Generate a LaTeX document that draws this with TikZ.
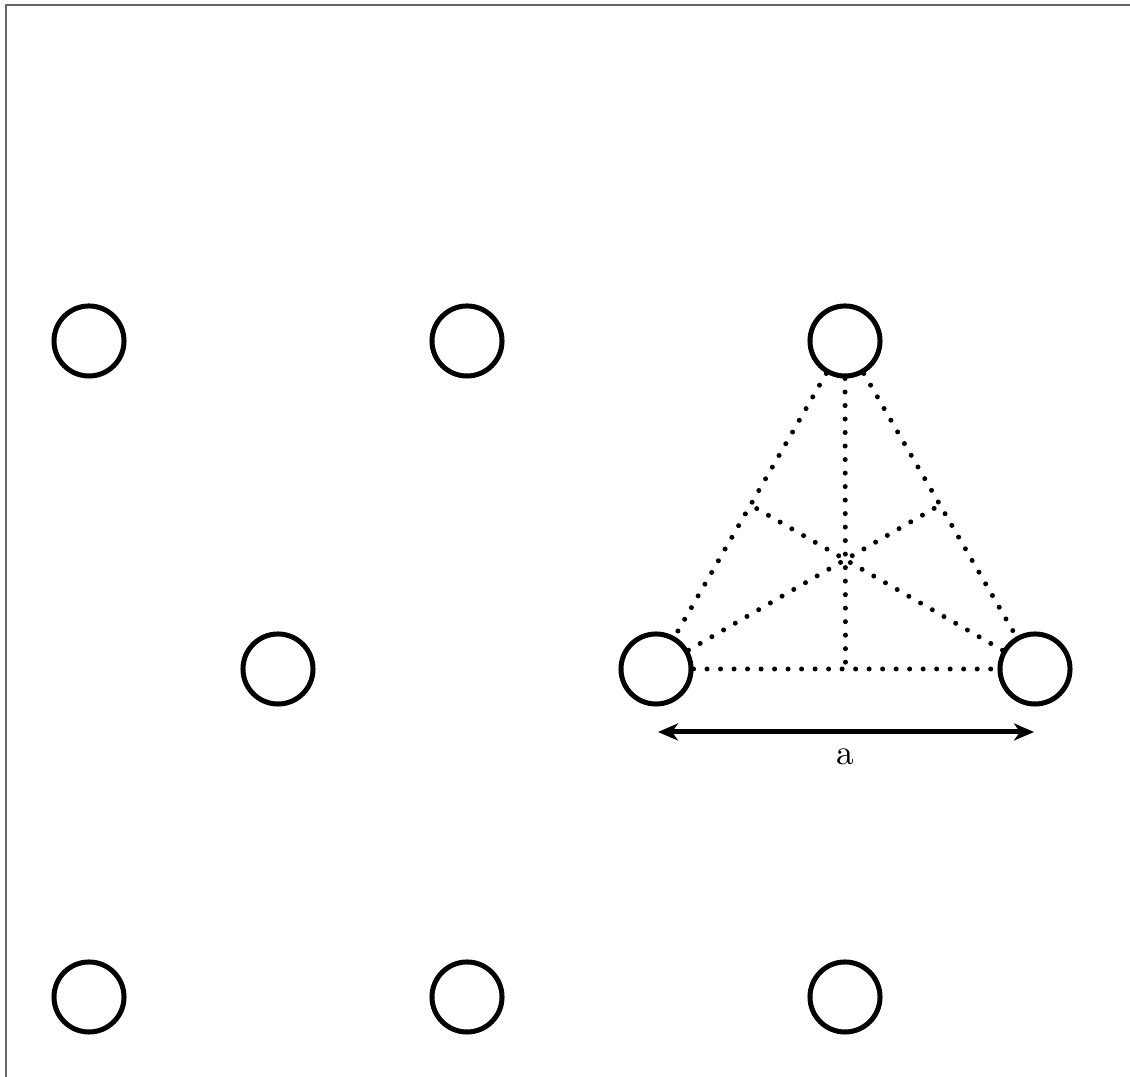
\documentclass[tikz,border=0pt]{standalone}
\usetikzlibrary{calc,arrows.meta}
\begin{document}
\begin{tikzpicture}[x=0.01cm,y=-0.01cm,
  site/.style={circle,draw=black,line width=0.05cm,minimum size=0.70cm,inner sep=0pt},
  guide/.style={line width=0.05cm,line cap=round,dash pattern=on 0pt off 0.135cm},
  span/.style={line width=0.05cm,{Stealth[length=0.2cm,width=0.17cm,inset=0.06cm]}-{Stealth[length=0.2cm,width=0.17cm,inset=0.06cm]}},
  frameline/.style={draw=black!60,line width=0.025cm}]
\useasboundingbox (0,0) rectangle (1130,1077);
% frame
\draw[frameline] (6,1077) -- (6,5) -- (1130,5);
% lattice sites
\node[site] (a1) at (89,341) {};
\node[site] (a2) at (467,341) {};
\node[site] (t)  at (845,341) {};
\node[site] (b1) at (278,669) {};
\node[site] (bl) at (656,669) {};
\node[site] (br) at (1035,669) {};
\node[site] (c1) at (89,997) {};
\node[site] (c2) at (467,997) {};
\node[site] (c3) at (845,997) {};
% midpoints
\coordinate (mb) at ($(bl.center)!0.5!(br.center)$);
\coordinate (ml) at ($(t.center)!0.5!(bl.center)$);
\coordinate (mr) at ($(t.center)!0.5!(br.center)$);
% triangle edges
\draw[guide] (t) -- (bl);
\draw[guide] (t) -- (br);
\draw[guide] (bl) -- (br);
% medians
\draw[guide] (t) -- (mb);
\draw[guide] (bl) -- (mr);
\draw[guide] (br) -- (ml);
% dimension arrow
\coordinate (pl) at (658,732);
\coordinate (pr) at (1034,732);
\draw[span] (pl) -- (pr);
\node (lbl) at (845,757) {a};
\end{tikzpicture}
\end{document}
